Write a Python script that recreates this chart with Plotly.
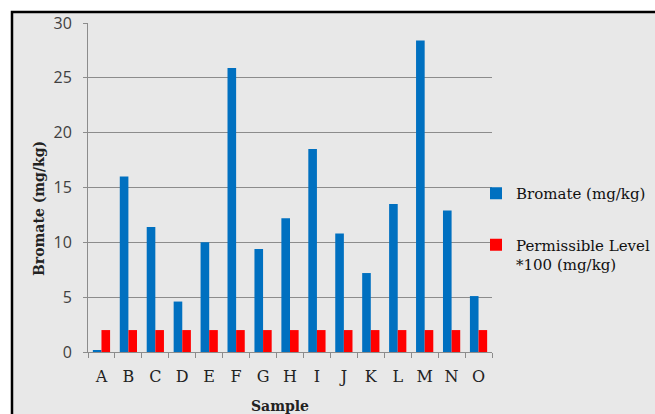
import plotly.graph_objects as go

samples = list("ABCDEFGHIJKLMNO")
bromate = [0.1, 16.0, 11.4, 4.6, 10.0, 25.9, 9.4, 12.2, 18.5, 10.8, 7.2, 13.5, 28.4, 12.9, 5.1]
permissible = [2.0] * 15
y_ticks = [0, 5, 10, 15, 20, 25, 30]

W, H = 655, 414
L, R, T, B = 88, 492, 23, 352
pw, ph = R - L, B - T

def px(x):
    return (x - L) / pw

def py(y):
    return (B - y) / ph

serif = "DejaVu Serif"

fig = go.Figure()
fig.add_trace(go.Bar(x=samples, y=bromate, name="Bromate (mg/kg)",
                     marker=dict(color="#0070C0", line=dict(width=0)), legendgroup="a"))
fig.add_trace(go.Bar(x=samples, y=permissible, name="Permissible Level<br>*100 (mg/kg)",
                     marker=dict(color="#FF0000", line=dict(width=0)), legendgroup="b"))

fig.add_shape(type="rect", xref="paper", yref="paper",
              x0=px(12), x1=px(W + 20), y0=py(H + 20), y1=py(12),
              fillcolor="#E8E8E8", line=dict(color="black", width=2.5), layer="below")

fig.add_annotation(text="<b>Bromate (mg/kg)</b>", textangle=-90, showarrow=False,
                   xref="paper", yref="paper", x=px(39), y=py(209),
                   xanchor="center", yanchor="middle",
                   font=dict(family=serif, size=14, color="#222222"))
fig.add_annotation(text="<b>Sample</b>", showarrow=False,
                   xref="paper", yref="paper", x=px(280), y=py(406),
                   xanchor="center", yanchor="middle",
                   font=dict(family=serif, size=14, color="#222222"))

fig.update_layout(
    width=W, height=H,
    margin=dict(l=L, r=W - R, t=T, b=H - B, autoexpand=False),
    paper_bgcolor="white",
    plot_bgcolor="rgba(0,0,0,0)",
    barmode="group",
    bargap=0.36,
    bargroupgap=0.0,
    font=dict(family=serif, color="#222222"),
    legend=dict(x=px(476), y=py(177), xanchor="left", yanchor="top",
                font=dict(family=serif, size=15, color="#111111"),
                tracegroupgap=29, valign="top", itemwidth=30,
                bgcolor="rgba(0,0,0,0)"),
    showlegend=True,
)
fig.update_xaxes(
    type="category",
    showline=True, linecolor="#8C8C8C", linewidth=1,
    ticks="outside", tickson="boundaries", ticklen=5, tickcolor="#8C8C8C",
    ticklabelstandoff=10,
    tickfont=dict(family=serif, size=16, color="#222222"),
    showgrid=False,
)
fig.update_yaxes(
    range=[0, 30], tickvals=y_ticks,
    showline=True, linecolor="#8C8C8C", linewidth=1,
    ticks="outside", ticklen=4, tickcolor="#8C8C8C",
    gridcolor="#8C8C8C", gridwidth=1, zeroline=False,
    ticklabelstandoff=8,
    tickfont=dict(family="Open Sans", size=16, color="#404040"),
)

fig.write_html("out.html", config={"displayModeBar": False},
               post_script="document.body.style.margin='0';document.body.style.padding='0';document.body.style.overflow='hidden';")
